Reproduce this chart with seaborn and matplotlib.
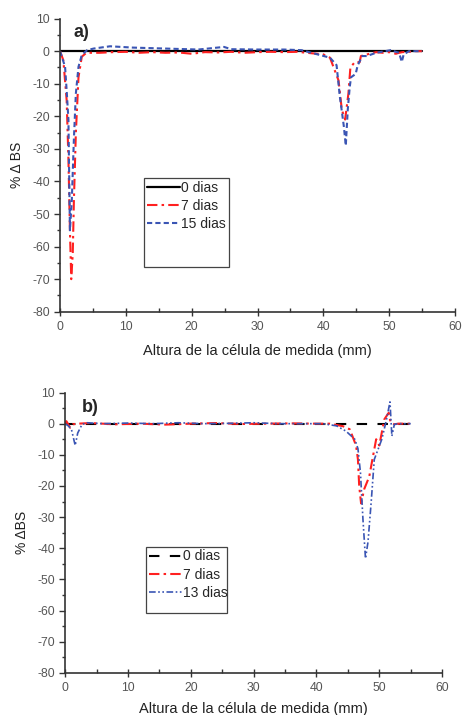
import matplotlib
matplotlib.use("Agg")
import matplotlib.pyplot as plt
import seaborn as sns
import numpy as np
from matplotlib.patches import Rectangle
from matplotlib.ticker import MultipleLocator

sns.set_style("ticks")
plt.rcParams['font.family'] = ['Liberation Sans', 'DejaVu Sans']
plt.rcParams['axes.unicode_minus'] = False

# ---------------- Panel a data ----------------
a_x_0 = [0, 55]
a_y_0 = [0, 0]

a_x_7 = [0, 0.5, 1.0, 1.27, 1.5, 1.7, 1.93, 2.1, 2.4, 2.8, 3.3, 4, 6, 8, 10, 12, 14, 16, 18, 20,
         22, 24, 26, 28, 30, 32, 34, 36, 38, 40, 41, 42.3, 42.8, 43.3, 43.8, 44.1, 44.8, 45.5,
         45.7, 47, 48, 49, 50, 51, 51.5, 52, 53, 54, 55]
a_y_7 = [0, -2.8, -15, -33, -55, -70, -62, -46, -25, -8, -1.7, -0.5, -0.5, -0.3, -0.2, -0.5, -0.3,
         -0.5, -0.4, -0.8, -0.3, -0.4, -0.2, -0.5, -0.3, -0.2, -0.3, -0.2, -0.6, -1, -2, -9, -18,
         -21, -13, -5, -3.3, -3.4, -1.5, -0.8, -0.3, -0.5, -0.3, -0.8, -0.5, -0.3, -0.2, 0, 0]

a_x_15 = [0, 0.76, 1.0, 1.27, 1.5, 1.78, 2.1, 2.4, 2.8, 3.3, 4.1, 5.1, 7.6, 11, 16, 21, 24.9, 26,
          30, 34, 36.7, 39.5, 41, 42.0, 42.5, 43.1, 43.4, 43.7, 44.0, 44.2, 44.9, 45.2, 45.9, 46.6,
          48, 50.2, 51.5, 51.9, 52.2, 53, 54, 55]
a_y_15 = [0, -4.8, -12, -21, -55, -46, -27, -13, -4.8, -1.2, 0.3, 0.8, 1.5, 1.1, 0.8, 0.5, 1.3, 0.6,
          0.5, 0.5, 0.3, -1.2, -2, -4.3, -14, -23, -29, -18, -11, -8, -7, -4.4, -1.5, -1.5,
          -0.5, 0.3, -0.5, -3.3, -1, 0, 0, 0]

# ---------------- Panel b data ----------------
b_x_0 = [0, 55]
b_y_0 = [0, 0]

b_x_7 = [0, 0.2, 0.8, 1.2, 2, 4, 8, 12, 16, 20, 24, 28, 32, 36, 40, 42.1, 44.2, 45.3, 46.3, 46.6,
         46.8, 47.1, 47.6, 48.4, 48.9, 49.5, 50.0, 50.8, 51.5, 51.8, 52.4, 53, 55]
b_y_7 = [0, 0.8, -1.3, -0.2, 0, 0.2, -0.2, 0, -0.3, 0, 0.2, -0.1, 0, 0.1, 0, 0, -0.8, -1.8, -7, -11.5,
         -20, -25.6, -21, -17, -11.5, -5, -7, 1.4, 3.5, 0.3, -0.2, 0, 0]

b_x_13 = [0, 0.5, 1.0, 1.6, 2.0, 2.7, 3.5, 6, 10, 14, 18, 22, 26, 30, 34, 38, 41, 43.2, 44.7, 46.1,
          46.6, 47.0, 47.4, 47.8, 48.2, 48.7, 49.2, 49.7, 50.4, 51.1, 51.7, 52.0, 52.4, 53, 55]
b_y_13 = [0, -0.7, -1.8, -7, -3, -0.2, 0.3, 0, 0.2, 0, 0.3, 0, 0.1, 0.3, 0, 0, 0, -0.7, -2.4, -5,
          -8, -15.7, -30.8, -43.3, -38, -25.4, -11.5, -8.8, -5, 0.9, 7, -4, -0.2, 0, 0]

RED = "#ff2020"
BLUE = "#3a55b4"
GRAY = "#555555"
xlabel = "Altura de la célula de medida (mm)"

fig = plt.figure(figsize=(4.62, 7.15), dpi=100)
axa = fig.add_axes([0.130, 0.564, 0.855, 0.410])
axb = fig.add_axes([0.141, 0.059, 0.816, 0.392])

# Panel a
sns.lineplot(x=a_x_0, y=a_y_0, ax=axa, color="black", lw=1.6, label="0 dias")
sns.lineplot(x=a_x_7, y=a_y_7, ax=axa, color=RED, lw=1.5, label="7 dias")
sns.lineplot(x=a_x_15, y=a_y_15, ax=axa, color=BLUE, lw=1.5, label="15 dias")
la = axa.get_lines()
la[1].set_dashes([5, 2, 1.2, 2])
la[2].set_dashes([2.5, 1.5])

# Panel b
sns.lineplot(x=b_x_0, y=b_y_0, ax=axb, color="black", lw=1.5, label="0 dias")
sns.lineplot(x=b_x_7, y=b_y_7, ax=axb, color=RED, lw=1.5, label="7 dias")
sns.lineplot(x=b_x_13, y=b_y_13, ax=axb, color=BLUE, lw=1.2, label="13 dias")
lb = axb.get_lines()
lb[0].set_dashes([5, 5])
lb[1].set_dashes([5, 2, 1.2, 2])
lb[2].set_dashes([4, 1.5, 1, 1.5, 1, 1.5])

for ax, lab, ylab, legtop, boxpos, labxy, xlpad in [
        (axa, "a)", "% Δ BS", 0.457, (0.213, 0.154, 0.215, 0.303), (2.0, 5.8), 8),
        (axb, "b)", "% ΔBS", 0.45, (0.215, 0.214, 0.215, 0.236), (2.6, 5.2), 6)]:
    ax.set_xlim(0, 60)
    ax.set_ylim(-80, 10)
    ax.xaxis.set_major_locator(MultipleLocator(10))
    ax.xaxis.set_minor_locator(MultipleLocator(5))
    ax.yaxis.set_major_locator(MultipleLocator(10))
    ax.yaxis.set_minor_locator(MultipleLocator(5))
    ax.tick_params(which="major", length=4, width=1, labelsize=8.8, labelcolor=GRAY, color="#333333")
    ax.tick_params(which="minor", length=2.5, width=1, color="#333333")
    ax.tick_params(axis="x", which="major", direction="inout", length=6)
    ax.tick_params(axis="x", which="minor", direction="in", length=3)
    for s in ["top", "right"]:
        ax.spines[s].set_visible(False)
    for s in ["left", "bottom"]:
        ax.spines[s].set_linewidth(1.2)
        ax.spines[s].set_color("#333333")
    ax.set_xlabel(xlabel, fontsize=10.5, color="#222222", labelpad=xlpad)
    ax.set_ylabel(ylab, fontsize=10, color="#222222", labelpad=6)
    ax.text(labxy[0], labxy[1], lab, fontsize=13, fontweight="bold", va="center", ha="left")
    leg = ax.legend(loc="upper left", bbox_to_anchor=(boxpos[0], legtop),
                    frameon=False, fontsize=10, handlelength=2.4, handletextpad=0.05,
                    borderaxespad=0, borderpad=0.2, labelspacing=0.3)
    ax.add_patch(Rectangle((boxpos[0], boxpos[1]), boxpos[2], boxpos[3],
                           transform=ax.transAxes, fill=False, edgecolor="#444444", lw=0.9))

fig.savefig("out.png", dpi=100)
